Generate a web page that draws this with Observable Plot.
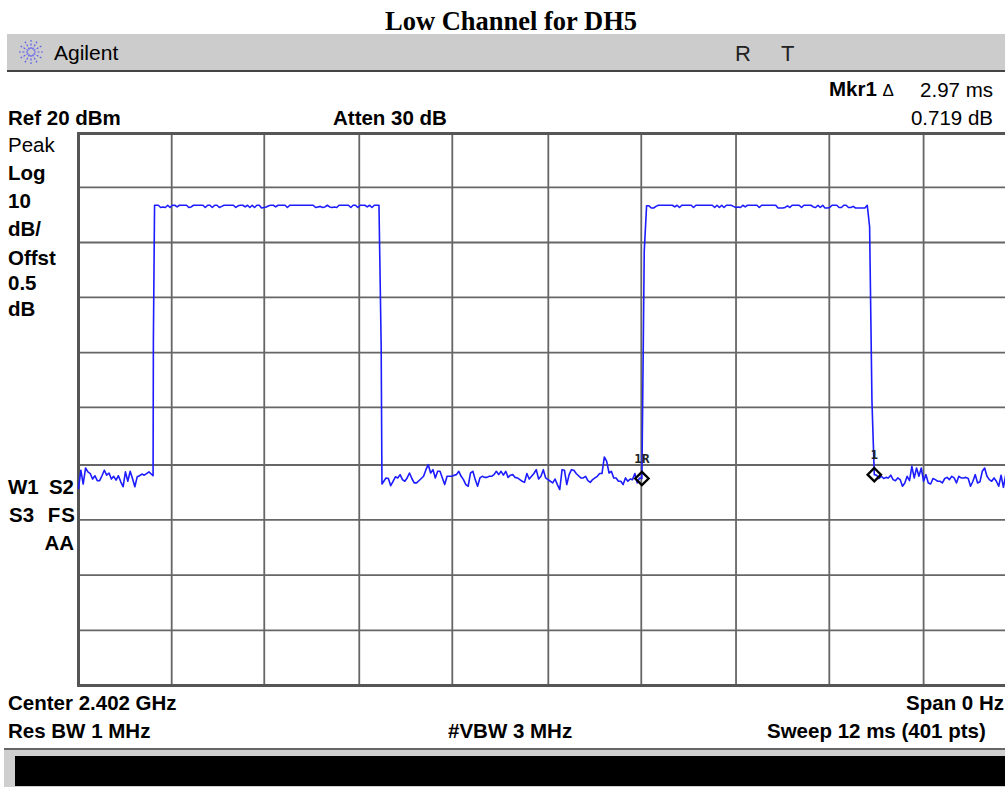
<!DOCTYPE html>
<html>
<head>
<meta charset="utf-8">
<script src="https://cdn.jsdelivr.net/npm/d3@7"></script>
<script src="https://cdn.jsdelivr.net/npm/@observablehq/plot@0.6"></script>
<style>
html,body{margin:0;padding:0;background:#fff;overflow:hidden}
#page{position:relative;width:1005px;height:787px;overflow:hidden;font-family:"Liberation Sans",Arial,sans-serif;color:#000}
#chart{position:absolute;left:0;top:0}
.t{position:absolute;white-space:nowrap;font-size:20.5px;line-height:22px;font-weight:bold;transform:translateY(-50%)}
.r{font-weight:normal}
.e{transform:translate(-100%,-50%)}
.bar{position:absolute}
</style>
</head>
<body>
<div id="page">
  <div id="chart"></div>
  <div class="bar" style="left:7px;top:34px;width:998px;height:36px;background:#cccccc"></div>
  <div class="bar" style="left:7px;top:70px;width:998px;height:2px;background:#444"></div>
  <div class="bar" style="left:4px;top:748px;width:1001px;height:39px;background:#cfcfcf;border-top:2px solid #666;box-sizing:border-box"></div>
  <div class="bar" style="left:15px;top:756px;width:990px;height:30px;background:#000"></div>
  <svg id="logo" class="bar" style="left:18px;top:39px" width="26" height="26"></svg>

  <div class="t" style="left:511px;top:21px;transform:translate(-50%,-50%);font:bold 26.5px 'Liberation Serif',serif">Low Channel for DH5</div>
  <div class="t r" style="left:54px;top:53px;font-size:21px">Agilent</div>
  <div class="t r" style="left:735px;top:54px;font-size:22px;color:#222">R</div>
  <div class="t r" style="left:781px;top:54px;font-size:22px;color:#222">T</div>

  <div class="t" style="left:829px;top:90px">Mkr1 <span class="r" style="font-size:17px">Δ</span></div>
  <div class="t r e" style="left:993px;top:90px">2.97 ms</div>
  <div class="t" style="left:8px;top:118px">Ref 20 dBm</div>
  <div class="t" style="left:333px;top:118px">Atten 30 dB</div>
  <div class="t r e" style="left:993px;top:118px">0.719 dB</div>

  <div class="t r" style="left:8px;top:145px">Peak</div>
  <div class="t" style="left:8px;top:173px">Log</div>
  <div class="t" style="left:8px;top:201px">10</div>
  <div class="t" style="left:8px;top:229px">dB/</div>
  <div class="t" style="left:8px;top:258px">Offst</div>
  <div class="t" style="left:8px;top:283px">0.5</div>
  <div class="t" style="left:8px;top:309px">dB</div>
  <div class="t" style="left:8px;top:487px">W1</div>
  <div class="t e" style="left:74px;top:487px">S2</div>
  <div class="t" style="left:9px;top:515px">S3</div>
  <div class="t e" style="left:76px;top:515px;letter-spacing:1px">FS</div>
  <div class="t e" style="left:74px;top:543px">AA</div>

  <div class="t" style="left:8px;top:703px">Center 2.402 GHz</div>
  <div class="t e" style="left:1004px;top:703px">Span 0 Hz</div>
  <div class="t" style="left:8px;top:731px">Res BW 1 MHz</div>
  <div class="t" style="left:448px;top:731px">#VBW 3 MHz</div>
  <div class="t" style="left:767px;top:731px">Sweep 12 ms (401 pts)</div>
</div>
<script>
// Trace in dBm, 401 sweep points over 12 ms
const noiseA = [-44.3,-41,-43.5,-40.6,-41.3,-41.6,-42.6,-42,-42.9,-42.9,-42,-41,-41.9,-41.5,-42.6,-42.1,-42.8,-42,-43.1,-44,-41.3,-43,-41.2,-42.5,-44,-42.2,-42,-41.7,-41.9,-41.6,-41.3,-42];
const riseA = [-17.6];
const burstA = [7,7,6.6,6.7,6.6,7,6.6,7,7,6.7,
  7,7,7,7,6.6,6.7,7,7,7,7,
  7,6.6,7,7,6.6,7,7,6.6,6.8,7,
  7,7,7,7,6.6,6.9,7,7,6.7,7,
  6.6,7,6.6,7,7,6.5,6.6,6.7,6.9,7,
  7,6.7,7,7,7,7,6.6,7,7,7,
  7,7,7,7,7,7,7,7,6.6,6.7,
  6.8,6.6,6.7,7,6.7,6.6,6.7,6.6,7,7,
  7,7,7,6.6,7,7,6.6,7,7,7,
  6.7,7,6.6,7,7,7];
const fallA = [-18.5];
const noiseB1 = [-43.5,-42.4,-42.5,-43.8,-43,-42.2,-42.4,-41.8,-42.7,-43,
  -42.4,-41.5,-42.5,-43.3,-43.3,-42.9,-42.5,-42.1,-40.9,-40,
  -41.5,-40.9,-42.4,-41.2,-41.2,-42.4,-43.6,-42.1,-42.1,-42.1,
  -41.9,-41.8,-41.2,-42.1,-42.7,-43.6,-43.9,-41.5,-41.2,-42.7,
  -43.9,-42.4,-42.1,-42.3,-42.3,-42.1,-42.1,-41.8,-41.2,-41.8,
  -41.2,-41.9,-41.2,-42.3,-41.9,-41.8,-42.3];
const noiseB2 = [-42.4,-42.7,-43,-43.2,-41.6,-42.6,-42.1,-41.6,-40.9,-42.6,
  -42.1,-40.9,-42.4,-42.7,-43,-43.3,-42.6,-43.6,-44.5,-40.9,
  -41,-43.6,-41.8,-40.9,-41,-41.6,-42,-42.4,-42.4,-42.1,
  -42.9,-43.2,-42.7,-42.4,-42.1,-41.6,-41.6,-38.6,-39.4,-41.5,
  -41.2,-42.4,-42.4,-43,-43,-43.6,-42.4,-43,-42.6,-42.7,
  -41.6,-43.3,-42.4,-42.5];
const riseB = [-1.3];
const burstB = [6.9,6.9,6.5,6.5,6.8,7,7,7,7,7,
  7,7,6.7,7,6.6,7,7,7,7,7,
  6.6,7,7,7,7,7,7,7,7,6.6,
  7,6.6,7,6.6,7,7,7,6.8,6.6,6.7,
  6.6,7,6.7,7,7,7,7,7,6.6,7,
  7,7,7,7,7,7,6.5,6.5,6.5,6.6,
  6.9,6.6,7,7,7,7,6.6,7,7,7,
  7,6.7,6.6,7,6.6,7,6.5,6.5,6.6,7,
  7,7,6.6,6.6,7,7,6.6,6.6,6.8,6.5,
  6.5,6.5,6.5,6.5,7];
const fallB = [3.1,-28.5,-41.8];
const noiseC = [-41.9,-42.5,-42.1,-42.5,-42.3,-42.4,-41.9,-42.7,-42.9,-42.4,
  -42.7,-43.9,-43.3,-42.1,-42.9,-40.3,-42.4,-40.6,-42.1,-40.6,
  -43,-41.8,-43.3,-43.5,-42.5,-42.7,-43,-43,-43.3,-42.5,
  -42.3,-42.7,-42.1,-42.4,-43.3,-42.1,-42.4,-42.4,-42.3,-42.5,
  -43.9,-43,-41.8,-43.3,-43.1,-41.2,-40.6,-42.1,-42.7,-43,
  -42.4,-43,-43.9,-41.9,-44.1,-41.8,
  -42.3,-42.8,-42.1,-42.6,-42.4];

const edgeIndex = [31, 32, 33, 128, 129, 130];
const edgeTimes = [0.953, 0.957, 0.972, 3.84, 3.868, 3.878];

const markerIndex = [240, 339];
const markerLabels = ["1R", "1"];
const sweepMs = 12;
const refDbm = 20;
const bottomDbm = -80;
const timeTicks = [1.191,2.374,3.588,4.777,6.004,7.192,8.403,9.595,10.8];
const levelTicks = [10.25,0.25,-9.7,-19.7,-29.6,-40.05,-50,-60,-70];

const dbm = [].concat(noiseA,riseA,burstA,fallA,noiseB1,noiseB2,riseB,burstB,fallB,noiseC);
const trace = dbm.map((v,i)=>{
  const e = edgeIndex.indexOf(i);
  return {t: e >= 0 ? edgeTimes[e] : i/(dbm.length-1)*sweepMs, v};
});
const markers = markerIndex.map((i,k)=>({...trace[i], label:markerLabels[k]}));

const chart = Plot.plot({
  width:1017, height:787,
  marginLeft:78, marginRight:0, marginTop:133, marginBottom:102,
  style:{maxWidth:"none", background:"#fff"},
  x:{domain:[0,sweepMs], axis:null},
  y:{domain:[bottomDbm,refDbm], axis:null},
  marks:[
    Plot.ruleX(timeTicks,{stroke:"#666",strokeWidth:1.8,strokeOpacity:1}),
    Plot.ruleY(levelTicks,{stroke:"#666",strokeWidth:1.8,strokeOpacity:1}),
    Plot.frame({stroke:"#555",strokeWidth:3,strokeOpacity:1}),
    Plot.line(trace,{x:"t",y:"v",stroke:"#1c1cff",strokeWidth:1.6,curve:"linear"}),
    Plot.dot(markers,{x:"t",y:"v",symbol:"diamond2",r:6,stroke:"#000",strokeWidth:2.4,fill:"none"}),
    Plot.text(markers,{x:"t",y:"v",text:"label",dy:-20,fontFamily:"DejaVu Sans Mono",fontWeight:"bold",fontSize:12.5,fill:"#222"})
  ]
});
document.getElementById("chart").appendChild(chart);

// Agilent spark logo
const logo = d3.select("#logo");
d3.range(12).forEach(k=>{
  const a = k*Math.PI/6;
  logo.append("line")
    .attr("x1",13+3*Math.cos(a)).attr("y1",13+3*Math.sin(a))
    .attr("x2",13+12*Math.cos(a)).attr("y2",13+12*Math.sin(a))
    .attr("stroke","#5a5af0").attr("stroke-width",1.2).attr("stroke-dasharray","2 1.6");
});
</script>
</body>
</html>
